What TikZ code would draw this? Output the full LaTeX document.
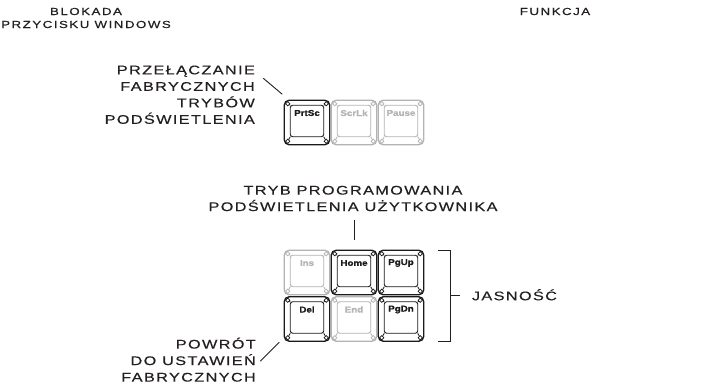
\documentclass[tikz,border=0pt]{standalone}
\usepackage{fontspec}
\setmainfont{Liberation Sans}
\newfontfamily\capsfont{Liberation Sans}[FakeStretch=1.3, LetterSpace=11, FakeBold=0.4]
\newfontfamily\headfont{Liberation Sans}[FakeStretch=1.3, LetterSpace=15, FakeBold=0.4]
\newfontfamily\keyfont{Liberation Sans}[FakeStretch=1.15, FakeBold=0.8]
\usepackage{tikz}
\usetikzlibrary{shapes.geometric, positioning, calc}
\definecolor{inkblack}{HTML}{231F20}
\definecolor{keyon}{HTML}{1A1A1A}
\definecolor{keyoff}{HTML}{B3B3B3}
\tikzstyle{keybox} = [rectangle, rounded corners=5pt, minimum width=45.5pt, minimum height=44.5pt,
  inner sep=0pt, outer sep=0pt, line width=1.4pt, fill=white]
\tikzstyle{keyface} = [rounded corners=2.5pt, line width=0.9pt]
\tikzstyle{keyedge} = [line width=0.8pt]
\tikzstyle{keycorner} = [diamond, fill=white, inner sep=0pt, minimum size=4.5pt, line width=0.7pt]
\tikzstyle{keylabel} = [font=\keyfont\bfseries\fontsize{8.5}{9}\selectfont, inner sep=0pt]
\tikzstyle{bodytext} = [font=\capsfont\fontsize{12.5}{16.5}\selectfont, text=inkblack, inner sep=0pt]
\tikzstyle{headtext} = [font=\headfont\fontsize{10.2}{13}\selectfont, text=inkblack, inner sep=0pt]
\tikzstyle{leader} = [draw=inkblack, line width=0.9pt]

\begin{document}
\begin{tikzpicture}[x=1pt, y=-1pt]
  \useasboundingbox (0,0) rectangle (702,390);

  % header
  \node (blokada) [headtext, align=center] at (86,18) {BLOKADA\\PRZYCISKU WINDOWS};
  \node (funkcja) [headtext] at (555,11.5) {FUNKCJA};

  % keys
  \foreach \k/\x/\y/\t/\c in {prtsc/307/122.5/PrtSc/keyon, scrlk/354/122.5/ScrLk/keyoff,
      pause/401/122.5/Pause/keyoff, ins/307/272.5/Ins/keyoff, home/354/272.5/Home/keyon,
      pgup/401/272.5/PgUp/keyon, del/307/319/Del/keyon, endk/354/319/End/keyoff,
      pgdn/401/319/PgDn/keyon}{
    \node (\k) [keybox, draw=\c] at (\x,\y) {};
    \draw[keyface, draw=\c] ($(\k.north west)+(6,5)$) rectangle ($(\k.south east)+(-6,-8)$);
    \foreach \a/\dx/\dy/\ix/\iy in {north west/3.5/3.5/6/5, north east/-3.5/3.5/-6/5,
        south west/3.5/-3.5/6/-8, south east/-3.5/-3.5/-6/-8}{
      \draw[keyedge, draw=\c] ($(\k.\a)+(\dx,\dy)$) -- ($(\k.\a)+(\ix,\iy)$);
      \node[keycorner, draw=\c] at ($(\k.\a)+(\dx,\dy)$) {};
    }
    \node[keylabel, text=\c] at ($(\k.center)+(0,-9.5)$) {\t};
  }

  % labels
  \node (przel) [bodytext, align=right, anchor=east] at (255,94.75)
    {PRZEŁĄCZANIE\\FABRYCZNYCH\\TRYBÓW\\PODŚWIETLENIA};
  \draw[leader] ($(prtsc.north west)+(-2,-6)$) -- ++(-19,-16);

  \node (tryb) [bodytext, align=center] at (353,198.5)
    {TRYB PROGRAMOWANIA\\PODŚWIETLENIA UŻYTKOWNIKA};
  \draw[leader] ($(home.north)+(0,-10)$) -- ++(0,-20);

  \coordinate (brmid) at ($(pgup.north east)!0.5!(pgdn.south east)+(27,0)$);
  \draw[leader] ($(pgup.north east)+(14,0)$) -- ++(13,0) -- ($(pgdn.south east)+(27,0)$) -- ++(-13,0);
  \draw[leader] (brmid) -- ++(9,0);
  \node (jasnosc) [bodytext, text height=9pt, text depth=0pt, right=21pt of brmid] {JASNOŚĆ};

  \node (powrot) [bodytext, align=right, anchor=east] at (256,359.7)
    {POWRÓT\\DO USTAWIEŃ\\FABRYCZNYCH};
  \draw[leader] ($(del.south west)+(-5,1)$) -- ++(-19,19);
\end{tikzpicture}
\end{document}
